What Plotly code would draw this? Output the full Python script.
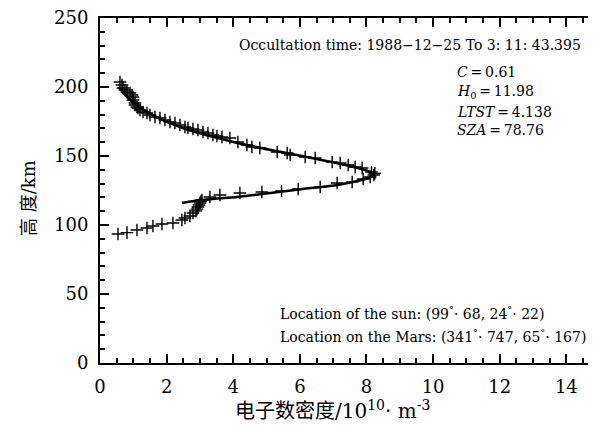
import plotly.graph_objects as go

# Observed electron density (10^10 m^-3) and altitude (km)
den_obs = [0.54, 0.81, 1.11, 1.41, 1.59, 1.86, 2.19, 2.46, 2.55, 2.70, 2.79, 2.88, 2.91, 2.94, 2.97, 3.00, 3.03, 3.06,
           3.30, 3.60, 4.20, 4.86, 5.45, 5.95, 6.61, 7.12, 7.57, 7.90, 8.11,
           8.22, 8.25,
           8.15, 7.87, 7.66, 7.45, 7.21, 6.97, 6.46, 6.16, 5.71, 5.62, 5.32, 4.80, 4.56, 4.41, 4.14, 3.90, 3.66, 3.51,
           3.39, 3.24, 3.09, 2.94, 2.79, 2.64, 2.55, 2.40, 2.25, 2.10, 1.95, 1.80, 1.65, 1.50, 1.41, 1.29, 1.20, 1.14,
           1.11, 1.05, 1.05, 0.99, 0.99, 0.96, 0.90, 0.81, 0.75, 0.69, 0.66, 0.60]
alt_obs = [93.5, 94.5, 96.4, 97.8, 99.3, 100.7, 101.4, 103.6, 105.1, 106.5, 108.7, 110.2, 111.5, 113.0, 114.5, 115.9, 117.0, 118.1,
           120.3, 121.7, 123.2, 123.9, 124.6, 126.1, 127.5, 130.4, 131.2, 133.3, 134.8,
           136.2, 137.4,
           138.4, 141.3, 142.0, 143.5, 144.9, 145.7, 148.6, 149.3, 150.7, 152.2, 152.9, 155.8, 156.5, 158.0, 160.1, 163.0, 163.8, 164.5,
           165.2, 166.7, 167.4, 168.8, 169.6, 170.3, 171.0, 172.5, 173.9, 174.6, 176.1, 177.5, 178.3, 179.7, 181.2, 181.9, 183.3, 184.8,
           185.5, 187.0, 188.4, 190.6, 192.8, 194.2, 195.7, 196.4, 197.8, 199.3, 201.4, 203.6]

# Fitted profile
den_fit = [2.46, 3.00, 4.11, 5.11, 6.10, 7.12, 7.72, 8.05, 8.20, 8.15, 7.94, 7.10, 6.05, 4.99, 4.03, 3.21, 2.53, 1.99, 1.55, 1.21, 0.94, 0.73, 0.57]
alt_fit = [115.9, 118.1, 120.3, 123.2, 126.1, 129.0, 131.9, 134.0, 136.0, 137.8, 140.0, 145.0, 150.0, 155.0, 160.0, 165.0, 170.0, 175.0, 180.0, 185.0, 190.0, 195.0, 200.0]

xticks = [0, 2, 4, 6, 8, 10, 12, 14]
yticks = [0, 50, 100, 150, 200, 250]

FONT = "DejaVu Serif, Noto Sans CJK SC"

fig = go.Figure()
fig.add_trace(go.Scatter(x=den_fit, y=alt_fit, mode="lines",
                         line=dict(color="black", width=2.6, shape="spline", smoothing=0.4),
                         showlegend=False, hoverinfo="skip"))
fig.add_trace(go.Scatter(x=den_obs, y=alt_obs, mode="markers",
                         marker=dict(symbol="cross-thin", size=9, line=dict(color="black", width=1.4)),
                         showlegend=False))

axis_common = dict(showgrid=False, zeroline=False, showline=True, linecolor="black", linewidth=2,
                   ticks="inside", tickcolor="black", tickwidth=2, ticklen=9,
                   tickfont=dict(family=FONT, size=18, color="black"))

fig.update_xaxes(range=[0, 14.65], tickvals=xticks, mirror="ticks",
                 minor=dict(dtick=0.5, ticks="inside", ticklen=5, tickwidth=1.5, tickcolor="black"),
                 ticklabelstandoff=6, **axis_common)
fig.update_yaxes(range=[0, 250], tickvals=yticks, mirror=False,
                 minor=dict(dtick=10, ticks="inside", ticklen=5, tickwidth=1.5, tickcolor="black"),
                 ticklabelstandoff=6, **axis_common)

txt = dict(family=FONT, size=14, color="black")
base = dict(showarrow=False)
eq = "\u2009=\u2009"
ann = [
    dict(x=14.5, y=230.4, xref="x", yref="y", xanchor="right", yanchor="middle",
         text="Occultation time: 1988\u221212\u221225 To 3: 11: 43.395", font=txt, **base),
    dict(x=10.66, y=211, xref="x", yref="y", xanchor="left", yanchor="middle",
         text="<i>C</i>" + eq + "0.61", font=txt, **base),
    dict(x=10.66, y=196.5, xref="x", yref="y", xanchor="left", yanchor="middle",
         text="<i>H</i><sub>0</sub>" + eq + "11.98", font=txt, **base),
    dict(x=10.66, y=182, xref="x", yref="y", xanchor="left", yanchor="middle",
         text="<i>LTST</i>" + eq + "4.138", font=txt, **base),
    dict(x=10.66, y=168.5, xref="x", yref="y", xanchor="left", yanchor="middle",
         text="<i>SZA</i>" + eq + "78.76", font=txt, **base),
    dict(x=5.35, y=36.5, xref="x", yref="y", xanchor="left", yanchor="middle",
         text="Location of the sun: (99<sup>°</sup>· 68, 24<sup>°</sup>· 22)", font=txt, **base),
    dict(x=5.35, y=19.8, xref="x", yref="y", xanchor="left", yanchor="middle",
         text="Location on the Mars: (341<sup>°</sup>· 747, 65<sup>°</sup>· 167)", font=txt, **base),
    dict(x=(28 - 100) / 488, y=(363 - 198) / 345, xref="paper", yref="paper", xanchor="center", yanchor="middle",
         text="高 度/km", textangle=-90, font=dict(family=FONT, size=18, color="black"), **base),
    dict(x=(332 - 100) / 488, y=(363 - 410) / 345, xref="paper", yref="paper", xanchor="center", yanchor="middle",
         text="电子数密度/10<sup>10</sup>· m<sup>-3</sup>", font=dict(family=FONT, size=20, color="black"), **base),
]

fig.update_layout(width=594, height=431, margin=dict(l=100, r=6, t=18, b=68),
                  paper_bgcolor="white", plot_bgcolor="white", annotations=ann,
                  font=dict(family=FONT, color="black"))

fig.write_html("out.html")
